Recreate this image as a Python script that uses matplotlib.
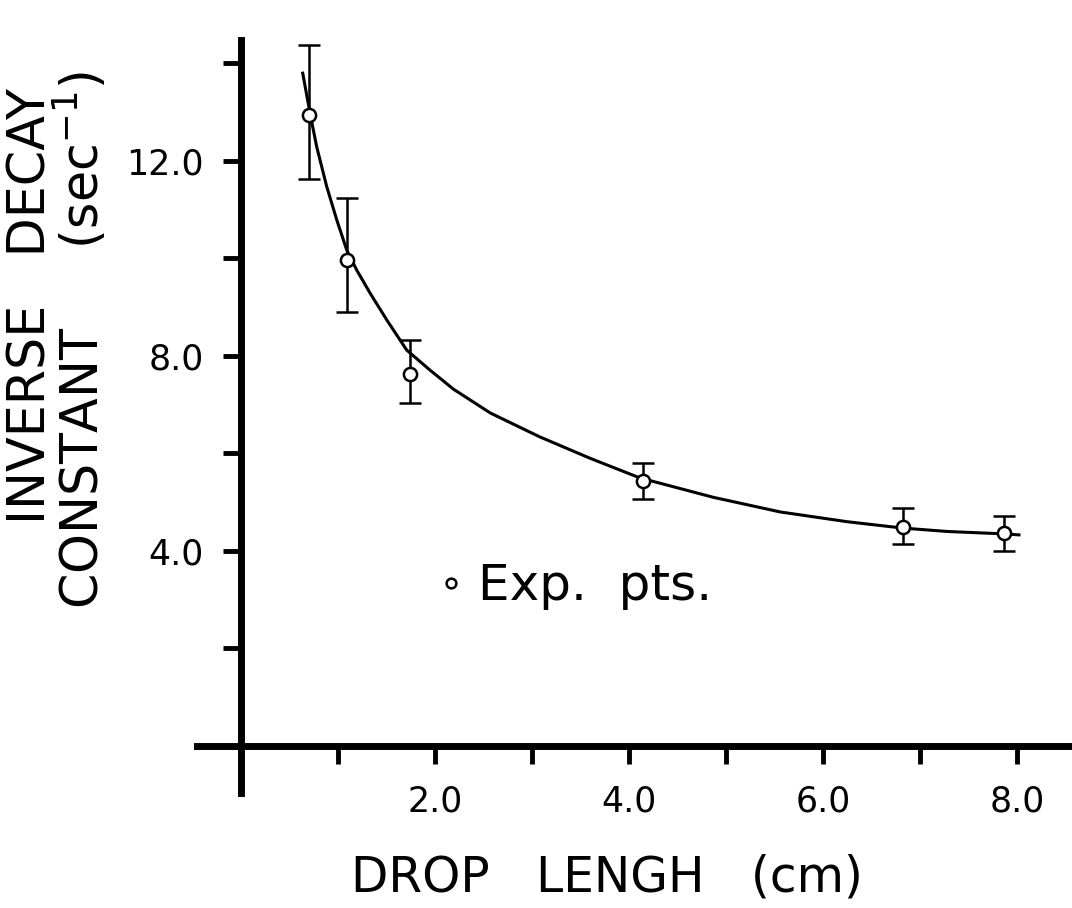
import numpy as np
import matplotlib
matplotlib.use("Agg")
import matplotlib.pyplot as plt
from matplotlib.lines import Line2D

plt.rcParams['font.family'] = ['DejaVu Sans']
plt.rcParams['mathtext.default'] = 'regular'

# experimental points (drop length cm, inverse decay constant 1/s)
pts_x = [0.70, 1.09, 1.74, 4.14, 6.82, 7.87]
pts_y = [12.94, 9.97, 7.63, 5.44, 4.49, 4.37]
bar_low = [11.63, 8.90, 7.04, 5.07, 4.14, 4.00]
bar_high = [14.38, 11.24, 8.33, 5.81, 4.88, 4.72]

# hand drawn fit curve
curve_x = [0.636, 0.711, 0.780, 0.884, 0.987, 1.090, 1.193, 1.330, 1.502,
           1.708, 1.948, 2.189, 2.57, 3.08, 3.60, 4.11, 4.87, 5.56, 6.25,
           6.82, 7.28, 7.87, 8.02]
curve_y = [13.80, 12.98, 12.29, 11.47, 10.79, 10.17, 9.76, 9.29, 8.74,
           8.12, 7.71, 7.32, 6.83, 6.34, 5.90, 5.50, 5.10, 4.80, 4.60,
           4.47, 4.40, 4.35, 4.33]

x_major = [2, 4, 6, 8]
x_labels = ['2.0', '4.0', '6.0', '8.0']
x_minor = [1, 3, 5, 7]
y_major = [4, 8, 12]
y_labels = ['4.0', '8.0', '12.0']
y_minor = [2, 6, 10, 14]

W, H = 1072, 908
fig = plt.figure(figsize=(W / 100, H / 100), dpi=100)
ax = fig.add_axes([197 / W, 1 - 793 / H, (W - 197) / W, (793 - 40) / H])

ax.set_xlim(-0.454, 8.567)
ax.set_ylim(-0.964, 14.48)

for s in ['top', 'right']:
    ax.spines[s].set_visible(False)
for s in ['left', 'bottom']:
    ax.spines[s].set_position(('data', 0))
    ax.spines[s].set_linewidth(5)

ax.set_xticks(x_major, x_labels)
ax.set_xticks(x_minor, minor=True)
ax.set_yticks(y_major, y_labels)
ax.set_yticks(y_minor, minor=True)
ax.tick_params(which='both', direction='out', length=13, width=3.5)
ax.tick_params(axis='x', which='both', pad=15, labelsize=25)
ax.tick_params(axis='y', which='both', pad=14, labelsize=25)

ax.plot(curve_x, curve_y, color='black', lw=2.2)

yerr = [np.array(pts_y) - np.array(bar_low), np.array(bar_high) - np.array(pts_y)]
ax.errorbar(pts_x, pts_y, yerr=yerr, fmt='o', ms=9.5, mfc='white', mec='black',
            mew=1.8, ecolor='black', elinewidth=1.8, capsize=8, capthick=3.2,
            zorder=3)

handle = Line2D([], [], ls='none', marker='o', ms=7, mfc='white', mec='black', mew=1.8)
fig.legend([handle], ['Exp.  pts.'], loc='center left',
           bbox_to_anchor=(441 / W, 1 - 586 / H), frameon=False,
           fontsize=36, handlelength=0.4, handletextpad=0.35,
           borderpad=0, borderaxespad=0)

fig.text(607 / W, 1 - 878 / H, 'DROP   LENGH   (cm)', ha='center', va='center', fontsize=35)
fig.text(32 / W, 1 - 306 / H, 'INVERSE   DECAY', rotation=90, ha='center', va='center', fontsize=36.5)
fig.text(81 / W, 1 - 340 / H, 'CONSTANT     (sec$^{-1}$)', rotation=90, ha='center', va='center', fontsize=36.5)

fig.savefig('out.png', dpi=100)
